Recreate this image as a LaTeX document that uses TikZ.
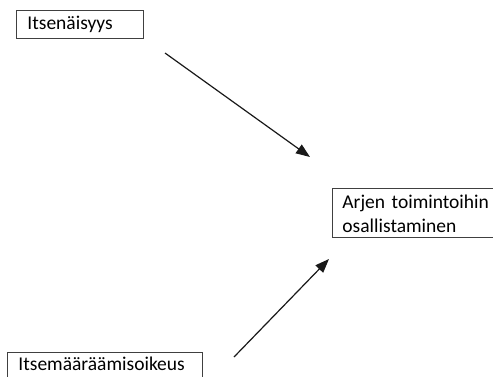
\documentclass[tikz,border=0pt]{standalone}
\usepackage{fontspec}
\setmainfont{Carlito}
\usetikzlibrary{arrows.meta}
\begin{document}
\begin{tikzpicture}[x=1pt,y=-1pt,
  box/.style={draw=black!75, line width=0.9pt, anchor=north west, inner ysep=0pt,
    align=left, font=\fontsize{19.5}{24.5}\selectfont},
  link/.style={line width=1.2pt, black!90, -{Triangle[length=14pt,width=10.5pt]}}]
\useasboundingbox (0,0) rectangle (493,376);
\clip (0,0) rectangle (493,376);
\fill[white] (0,0) rectangle (493,376);
\node[box, inner xsep=11pt, text width=105pt, text height=19pt, text depth=9pt] (itse) at (16,10) {Itsenäisyys};
\node[box, inner xsep=10pt, text width=180pt, text height=20pt, text depth=29pt] (arki) at (332,188) {Arjen toimintoihin\\osallistaminen};
\node[box, inner xsep=11pt, text width=173pt, text height=18pt, text depth=30pt] (maar) at (7,352) {Itsemääräämisoikeus};
\coordinate (a1s) at (165,53);
\coordinate (a1e) at (310,157);
\coordinate (a2s) at (234,357);
\coordinate (a2e) at (329,259);
\draw[link] (a1s) -- (a1e);
\draw[link] (a2s) -- (a2e);
\end{tikzpicture}
\end{document}
